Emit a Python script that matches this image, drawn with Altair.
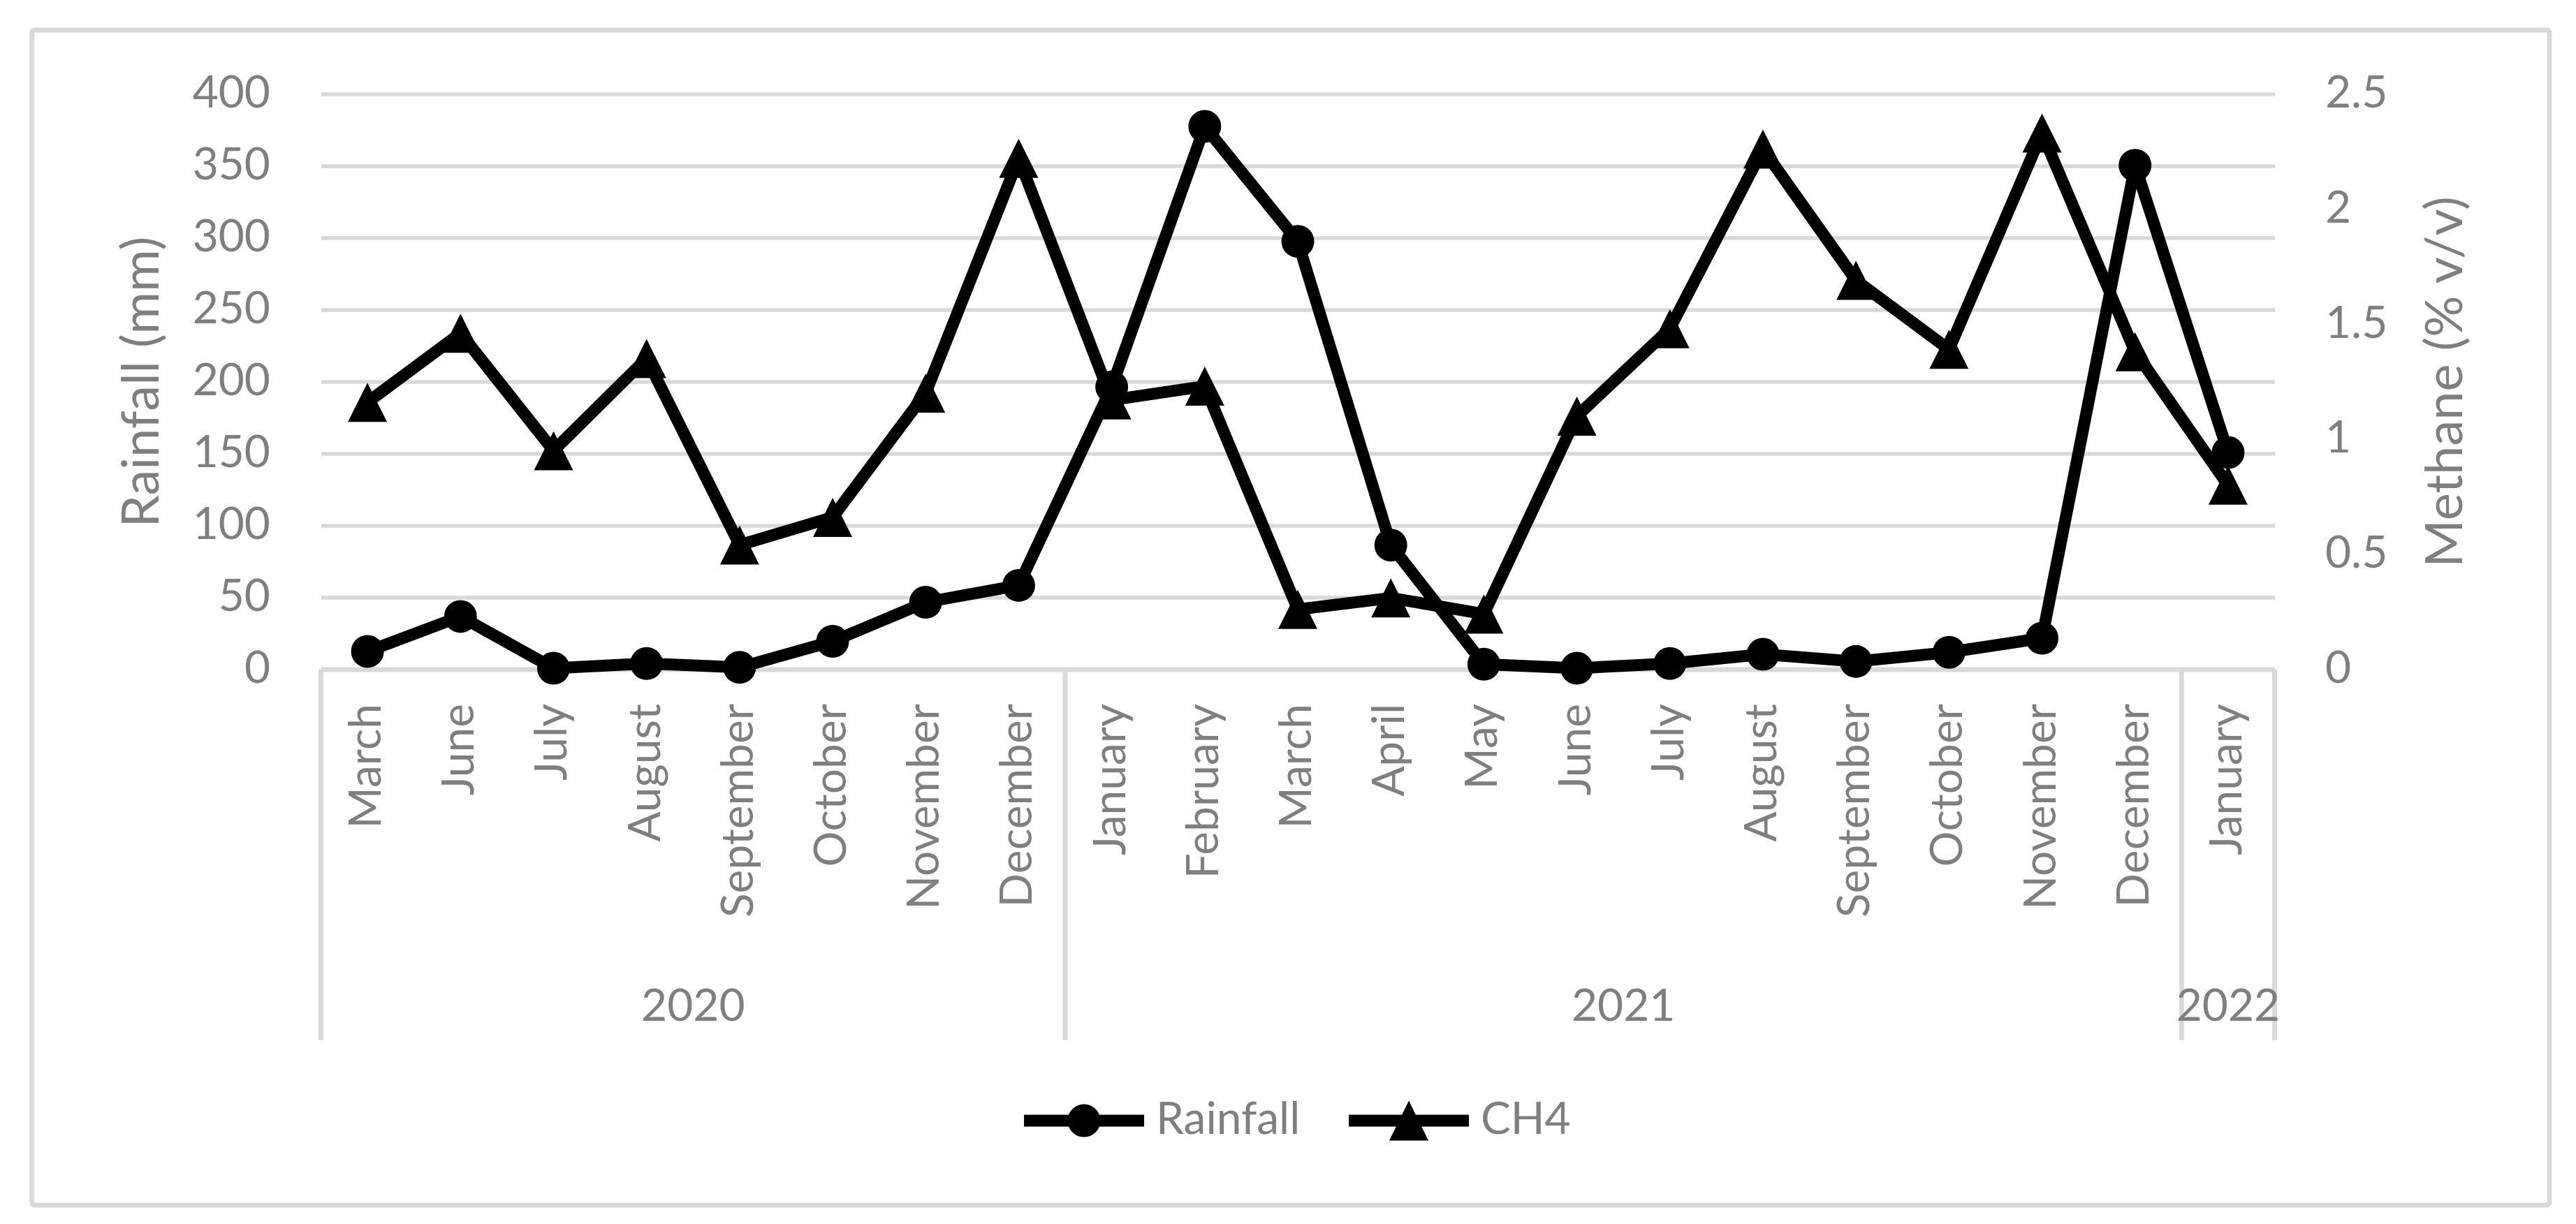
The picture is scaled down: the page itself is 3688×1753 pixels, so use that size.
import altair as alt
import pandas as pd

# ---- data ----
years = ["2020"] * 8 + ["2021"] * 12 + ["2022"]
months = ["March", "June", "July", "August", "September", "October", "November", "December",
          "January", "February", "March", "April", "May", "June", "July", "August",
          "September", "October", "November", "December",
          "January"]
rainfall = [12.4, 36.7, 0.7, 4.0, 1.3, 19.4, 46.6, 58.3,
            196.3, 377.4, 297.5, 86.3, 3.5, 0.7, 4.0, 10.4, 5.4, 11.8, 21.6, 350.4,
            150.7]
ch4 = [1.16, 1.46, 0.95, 1.35, 0.54, 0.66, 1.20, 2.22,
       1.17, 1.23, 0.26, 0.31, 0.24, 1.10, 1.48, 2.26, 1.69, 1.39, 2.33, 1.38,
       0.80]
rain_ticks = [0, 50, 100, 150, 200, 250, 300, 350, 400]
ch4_ticks = [0, 0.5, 1, 1.5, 2, 2.5]
series_names = ["Rainfall", "CH4"]

keys = [f"{m} {y}" for m, y in zip(months, years)]
df = pd.DataFrame({"key": keys, "month": months, "year": years,
                   "Rainfall": rainfall, "CH4": ch4})

# group anchors for the year labels / separators (derived from the data)
year_rows_even, year_rows_odd, group_starts = [], [], []
for y in dict.fromkeys(years):
    members = [k for k, yy in zip(keys, years) if yy == y]
    group_starts.append(members[0])
    n = len(members)
    if n % 2 == 0:
        year_rows_even.append({"year": y, "anchor": members[n // 2]})
    else:
        year_rows_odd.append({"year": y, "anchor": members[n // 2]})

# ---- style ----
W, H = 2797, 824
GRAY = "#7f7f7f"
GRID = "#d9d9d9"
FONT = "Lato"
LW = 17

xscale = alt.Scale(type="band", domain=keys, paddingInner=0, paddingOuter=0)
xaxis = alt.Axis(title=None, labelAngle=270, labelExpr="split(datum.value, ' ')[0]",
                 ticks=False, labelPadding=49, domainColor=GRID, domainWidth=7,
                 grid=False, labelFontSize=64, labelColor=GRAY, labelFont=FONT,
                 labelLimit=1000, labelOverlap=False)


def X(field, band=0.5):
    return alt.X(field, type="nominal", scale=xscale, axis=xaxis, bandPosition=band)


yl = alt.Y("Rainfall:Q",
           scale=alt.Scale(domain=[0, 400], nice=False),
           axis=alt.Axis(title="Rainfall (mm)", orient="left", values=rain_ticks,
                         grid=True, gridColor=GRID, gridWidth=5.5, domain=False,
                         ticks=False, labelPadding=73, titleX=-255.5, titleY=412,
                         titleAngle=270, titleAlign="center", titleBaseline="middle"))
yr = alt.Y("CH4:Q",
           scale=alt.Scale(domain=[0, 2.5], nice=False),
           axis=alt.Axis(title="Methane (% v/v)", orient="right", values=ch4_ticks,
                         format="~g", grid=False, domain=False, ticks=False,
                         labelPadding=72, titleX=246, titleY=412, titleAngle=270,
                         titleAlign="center", titleBaseline="middle"))

base = alt.Chart(df)

# legend symbols: line + marker
path_r = ("M-1,-0.1L1,-0.1L1,0.1L-1,0.1Z "
          "M0.273,0A0.273,0.273 0 1 1 -0.273,0A0.273,0.273 0 1 1 0.273,0Z")
path_t = ("M-1,-0.1L1,-0.1L1,0.1L-1,0.1Z "
          "M0,-0.331L0.326,0.331L-0.326,0.331Z")
tri_path = "M0,-1L1,1L-1,1Z"

border = alt.Chart(alt.Data(values=[{"a": 1}])).mark_rect(
    fillOpacity=0, stroke=GRID, strokeWidth=7, cornerRadius=4
).encode(x=alt.value(-414), x2=alt.value(3190.5), y=alt.value(-91.5), y2=alt.value(1591.5))

sep_start = alt.Chart(pd.DataFrame({"key": group_starts})).mark_rule(
    color=GRID, strokeWidth=7
).encode(x=X("key", 0), y=alt.value(H), y2=alt.value(1355))
sep_end = alt.Chart(pd.DataFrame({"key": [keys[-1]]})).mark_rule(
    color=GRID, strokeWidth=7
).encode(x=X("key", 1), y=alt.value(H), y2=alt.value(1355))

yr_text_even = alt.Chart(pd.DataFrame(year_rows_even)).mark_text(
    font=FONT, fontSize=64, color=GRAY, baseline="middle", align="center"
).encode(x=X("anchor", 0), y=alt.value(1308.5), text="year:N")
yr_text_odd = alt.Chart(pd.DataFrame(year_rows_odd)).mark_text(
    font=FONT, fontSize=64, color=GRAY, baseline="middle", align="center"
).encode(x=X("anchor", 0.5), y=alt.value(1308.5), text="year:N")

rain_line = base.mark_line(color="black", strokeWidth=LW, strokeJoin="round",
                           strokeCap="round").encode(x=X("key"), y=yl)
rain_pts = base.mark_point(filled=True, shape="circle", size=2209, color="black",
                           opacity=1).encode(x=X("key"), y=yl)

legend_layer = base.transform_calculate(series="'Rainfall'").transform_filter("false").mark_point(
    filled=True, color="black", opacity=1
).encode(
    x=X("key"), y=yl,
    shape=alt.Shape("series:N",
                    scale=alt.Scale(domain=series_names, range=[path_r, path_t]),
                    legend=alt.Legend(orient="none", legendX=1006.5, legendY=1384.5,
                                      direction="horizontal", title=None,
                                      symbolSize=29584, symbolFillColor="black",
                                      symbolStrokeWidth=0, symbolOpacity=1,
                                      labelFont=FONT, labelFontSize=64, labelColor=GRAY,
                                      labelOffset=17, columnPadding=69, padding=0,
                                      labelLimit=0))
)

ch4_line = base.mark_line(color="black", strokeWidth=LW, strokeJoin="round",
                          strokeCap="round").encode(x=X("key"), y=yr)
ch4_pts = base.mark_point(filled=True, shape=tri_path, size=3136, color="black",
                          opacity=1).encode(x=X("key"), y=yr)

left = alt.layer(border, sep_start, sep_end, yr_text_even, yr_text_odd,
                 rain_line, rain_pts, legend_layer)
right = alt.layer(ch4_line, ch4_pts)

chart = alt.layer(left, right).resolve_scale(y="independent").properties(
    width=W, height=H,
    autosize=alt.AutoSizeParams(type="none"),
    padding={"left": 451.5, "top": 126.5, "right": 423, "bottom": 786.5},
).configure_view(stroke="transparent").configure_axis(
    labelFont=FONT, titleFont=FONT, labelColor=GRAY, titleColor=GRAY,
    labelFontSize=64, titleFontSize=74, titleFontWeight="normal"
)

chart.save("out.html", embed_options={"renderer": "svg", "actions": False})
